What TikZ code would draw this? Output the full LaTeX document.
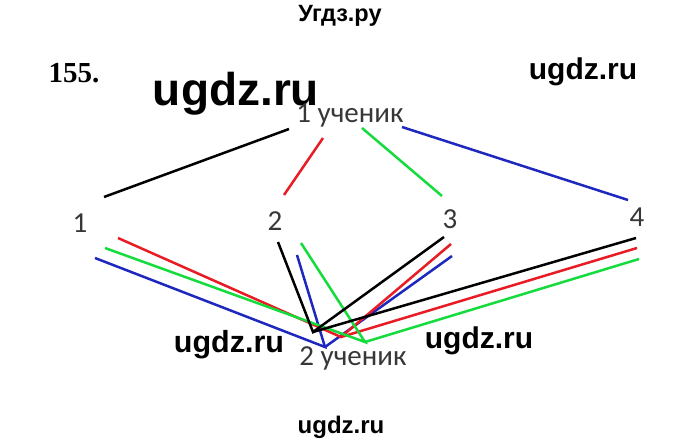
\documentclass[tikz,border=0pt]{standalone}
\usepackage{fontspec}
\setmainfont{Liberation Sans}
\newfontfamily\wmfont{Liberation Sans}
\newfontfamily\numfont{Liberation Serif}
\newfontfamily\lblfont{Carlito}
\definecolor{cred}{RGB}{232,28,36}
\definecolor{cgreen}{RGB}{20,220,60}
\definecolor{cblue}{RGB}{30,40,190}
\definecolor{ctext}{RGB}{55,55,55}
\tikzset{
  wm/.style={anchor=base, inner sep=0pt, font=\wmfont\bfseries},
  lbl/.style={anchor=base, inner sep=0pt, text=ctext, font=\lblfont\fontsize{29}{32}\selectfont},
  ln/.style={line width=2.5pt},
}
\begin{document}
\begin{tikzpicture}[x=1pt,y=-1pt]
\useasboundingbox[fill=white] (0,0) rectangle (680,444);
% header and watermarks
\node[wm, font=\wmfont\bfseries\fontsize{23.5}{26}\selectfont] (title) at (340,22) {Угдз.ру};
\node[anchor=base, inner sep=0pt, font=\numfont\bfseries\fontsize{29}{32}\selectfont] (num) at (74,82) {155.};
\node[wm, font=\wmfont\bfseries\fontsize{46}{50}\selectfont] (w1) at (236,105) {ugdz.ru};
\node[wm, font=\wmfont\bfseries\fontsize{30}{34}\selectfont] (w2) at (583,79) {ugdz.ru};
\node[wm, font=\wmfont\bfseries\fontsize{30.5}{34}\selectfont] (w3) at (229,352) {ugdz.ru};
\node[wm, font=\wmfont\bfseries\fontsize{30}{34}\selectfont] (w4) at (479,348) {ugdz.ru};
\node[wm, font=\wmfont\bfseries\fontsize{24}{28}\selectfont] (w5) at (341,433) {ugdz.ru};
% labels
\node[lbl] (s1) at (350,122) {1 ученик};
\node[lbl] (s2) at (353,365) {2 ученик};
\node[lbl] (n1) at (80,232) {1};
\node[lbl] (n2) at (275,230) {2};
\node[lbl] (n3) at (450,228) {3};
\node[lbl] (n4) at (637,226) {4};
% top connector endpoints
\coordinate (tk1) at (289,129); \coordinate (tk2) at (104,197);
\coordinate (tr1) at (323,138); \coordinate (tr2) at (284,195);
\coordinate (tg1) at (362,128); \coordinate (tg2) at (442,196);
\coordinate (tb1) at (402,127); \coordinate (tb2) at (628,200);
\draw[ln, black] (tk1) -- (tk2);
\draw[ln, cred] (tr1) -- (tr2);
\draw[ln, cgreen] (tg1) -- (tg2);
\draw[ln, cblue] (tb1) -- (tb2);
% vertices near 2nd student
\coordinate (vk) at (313,332);
\coordinate (vb) at (325,347);
\coordinate (vr) at (341,337);
\coordinate (vg) at (365,342);
% endpoints near numbers
\coordinate (r1) at (118,238); \coordinate (g1) at (105,248); \coordinate (b1) at (95,258);
\coordinate (k2) at (278,242); \coordinate (b2) at (297,255); \coordinate (g2) at (301,243);
\coordinate (k3) at (444,237); \coordinate (r3) at (451,244); \coordinate (b3) at (452,256);
\coordinate (k4) at (636,238); \coordinate (r4) at (637,248); \coordinate (g4) at (639,259);
% bottom connectors
\draw[ln, cblue] (b1) -- (vb) -- (b2);
\draw[ln, cblue] (vb) -- (b3);
\draw[ln, cred] (r1) -- (vr) -- (r3);
\draw[ln, cred] (vr) -- (r4);
\draw[ln, cgreen] (g1) -- (vg) -- (g2);
\draw[ln, cgreen] (vg) -- (g4);
\draw[ln, black] (k2) -- (vk) -- (k3);
\draw[ln, black] (vk) -- (k4);
\end{tikzpicture}
\end{document}
